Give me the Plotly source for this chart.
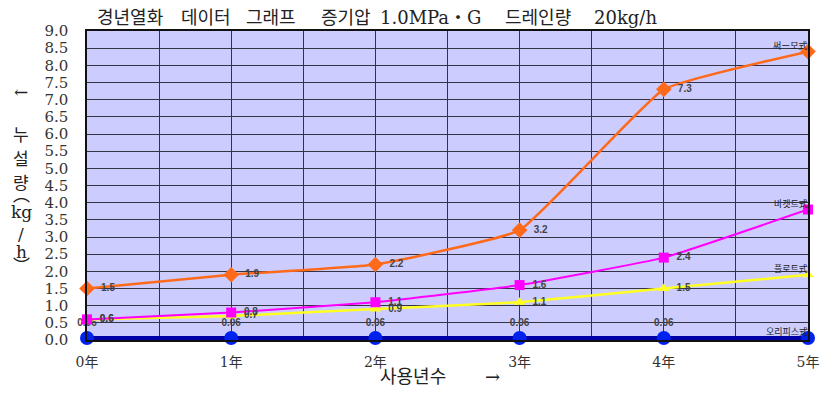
import plotly.graph_objects as go

years = [0, 1, 2, 3, 4, 5]
year_labels = ["0年", "1年", "2年", "3年", "4年", "5年"]

thermo = [1.5, 1.9, 2.2, 3.2, 7.3, 8.4]
bucket = [0.6, 0.8, 1.1, 1.6, 2.4, 3.8]
float_ = [0.6, 0.7, 0.9, 1.1, 1.5, 1.9]
orifice = [0.06, 0.06, 0.06, 0.06, 0.06, 0.06]

names = ["써ー모式", "바켓트式", "플로트式", "오리피스式"]

title_parts = ["경년열화", "데이터", "그래프", "증기압", "1.0MPa・G", "드레인량", "20kg/h"]
title_x = [95, 180, 245, 320, 380, 505, 595]  # screen x of each word's left edge
ylabel_chars = ["←", "누", "설", "량", "︵", "kg", "/", "h", "︶"]
ylabel_pos = [92, 135, 159, 183, 195, 212, 234, 252, 266]  # screen y of each glyph
xlabel_parts = ["사용년수", "→"]
xlabel_x = [415, 495]

serif = "DejaVu Serif, Noto Sans CJK KR"
kfont = "Noto Sans CJK KR"

# page body has an 8px margin; plot area on screen: x 87..812, y 31..340
OFF = 8
PL, PR, PT, PB = 87, 812, 31, 340
W, H = 823, 380

def px(sx):
    return (sx - PL) / (PR - PL)

def py(sy):
    return (PB - sy) / (PB - PT)

def labels(vals, fmt="{:.1f}"):
    return ["  <b>" + fmt.format(v) + "</b>" for v in vals[:-1]] + [""]

SM = 0.35
fig = go.Figure()

fig.add_trace(go.Scatter(
    x=years, y=orifice, mode="lines+markers+text",
    line=dict(color="#0000A8", width=4, shape="spline", smoothing=SM),
    marker=dict(symbol="circle", size=14, color="#0022EE"),
    text=["<b>{:.2f}</b>".format(v) for v in orifice[:-1]] + [""],
    textposition="top center",
    textfont=dict(size=10, color="#444444", family="Arial"),
    cliponaxis=False, name=names[3]))

fig.add_trace(go.Scatter(
    x=years, y=float_, mode="lines+markers+text",
    line=dict(color="#FFFF22", width=2.5, shape="spline", smoothing=SM),
    marker=dict(symbol="triangle-up", size=10, color="#FFFF22"),
    text=labels(float_), textposition="middle right",
    textfont=dict(size=10, color="#444444", family="Arial"),
    cliponaxis=False, name=names[2]))

fig.add_trace(go.Scatter(
    x=years, y=bucket, mode="lines+markers+text",
    line=dict(color="#FF00FF", width=2, shape="spline", smoothing=SM),
    marker=dict(symbol="square", size=10, color="#FF00FF"),
    text=labels(bucket), textposition="middle right",
    textfont=dict(size=10, color="#444444", family="Arial"),
    cliponaxis=False, name=names[1]))

fig.add_trace(go.Scatter(
    x=years, y=thermo, mode="lines+markers+text",
    line=dict(color="#FF6A1A", width=2.5, shape="spline", smoothing=SM),
    marker=dict(symbol="diamond", size=12, color="#FF6A1A"),
    text=labels(thermo), textposition="middle right",
    textfont=dict(size=10, color="#444444", family="Arial"),
    cliponaxis=False, name=names[0]))

# series name labels at the end
end_vals = [thermo[-1], bucket[-1], float_[-1], orifice[-1]]
for nm, v in zip(names, end_vals):
    fig.add_annotation(x=5, y=v, text=nm, showarrow=False, xanchor="right",
                       yanchor="bottom", xshift=2, yshift=-2,
                       font=dict(size=9, color="#222222", family=kfont))

for part, sx in zip(title_parts, title_x):
    fig.add_annotation(xref="paper", yref="paper", x=px(sx), y=py(18), xanchor="left",
                       yanchor="middle", showarrow=False, text=part,
                       font=dict(size=18, color="#222222", family=serif))

for ch, sy in zip(ylabel_chars, ylabel_pos):
    fig.add_annotation(xref="paper", yref="paper", x=px(21), y=py(sy),
                       xanchor="center", yanchor="middle", showarrow=False,
                       text=ch, font=dict(size=17, color="#222222", family=serif))

for part, sx in zip(xlabel_parts, xlabel_x):
    fig.add_annotation(xref="paper", yref="paper", x=px(sx), y=py(376), xanchor="center",
                       yanchor="middle", showarrow=False, text=part,
                       font=dict(size=18, color="#222222", family=serif))

fig.update_layout(
    width=W, height=H,
    margin=dict(l=PL - OFF, r=W - (PR - OFF), t=PT - OFF, b=H - (PB - OFF)),
    paper_bgcolor="white", plot_bgcolor="#CCCCFF",
    showlegend=False,
    xaxis=dict(range=[0, 5], tickvals=years, ticktext=year_labels,
               showgrid=True, gridcolor="#333344", gridwidth=1,
               minor=dict(dtick=0.5, tick0=0, showgrid=True, gridcolor="#333344", gridwidth=1),
               showline=True, linecolor="#111111", linewidth=1.5, mirror=True,
               zeroline=False, ticks="", ticklabelstandoff=8,
               tickfont=dict(size=14, color="#333333", family=serif)),
    yaxis=dict(range=[0, 9], dtick=0.5, tickformat=".1f",
               showgrid=True, gridcolor="#333344", gridwidth=1,
               showline=True, linecolor="#111111", linewidth=1.5, mirror=True,
               zeroline=False, ticks="", ticklabelstandoff=14,
               tickfont=dict(size=15, color="#333333", family=serif)),
)

fig.write_html("out.html")
